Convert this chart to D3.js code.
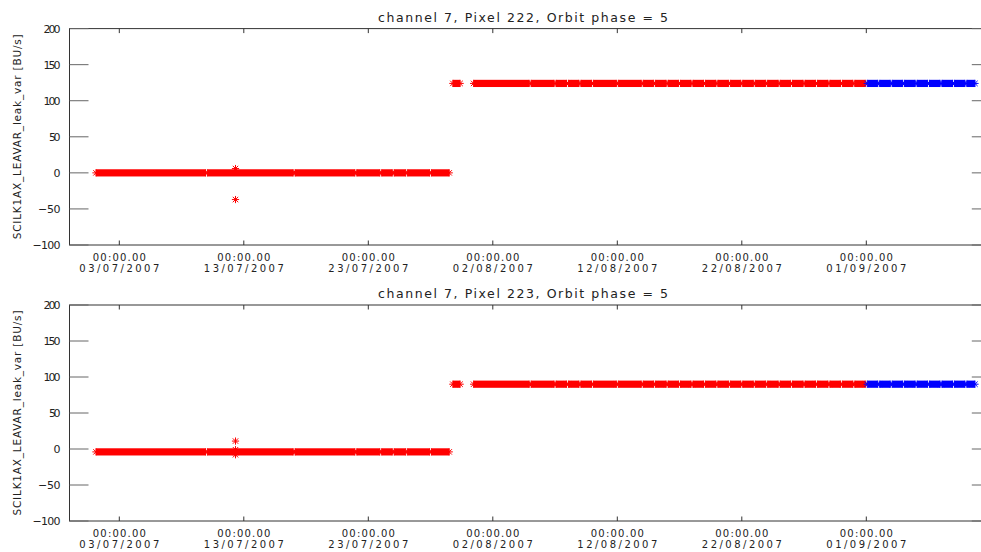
<!DOCTYPE html>
<html>
<head>
<meta charset="utf-8">
<script src="https://cdn.jsdelivr.net/npm/d3@7"></script>
<style>
  body { margin: 0; background: #fff; }
  svg { display: block; }
  text { font-family: "DejaVu Sans", sans-serif; fill: #222; }
</style>
</head>
<body>
<svg id="chart" width="981" height="552"></svg>
<script>
// ---- data ----
const channel = 7
const pixels = [222, 223]
const orbitPhase = 5
const lowLevel = [0, -4]        // BU/s before the jump
const highLevel = [124, 90]     // BU/s after the jump
const spikeTime = "2007-07-12T08:00"
const spikeValues = [[6, -37], [11, -1, -8]]

// observation spans and the daily gaps inside them
const lowSpan = ["2007-07-01T03:00", "2007-07-29T12:00"]
const lowGaps = ["2007-07-10", "2007-07-17T01:00", "2007-07-22", "2007-07-24",
  "2007-07-25", "2007-07-26T02:00", "2007-07-28"]
const jumpSpan = ["2007-07-29T19:00", "2007-07-30T09:00"]
const highSpan = ["2007-07-31T11:00", "2007-09-09T17:30"]
const highGaps = ["2007-08-05", "2007-08-07", "2007-08-08", "2007-08-09", "2007-08-10",
  "2007-08-12", "2007-08-14", "2007-08-15", "2007-08-16", "2007-08-17", "2007-08-18",
  "2007-08-19", "2007-08-20", "2007-08-21", "2007-08-22", "2007-08-23", "2007-08-24",
  "2007-08-25", "2007-08-26", "2007-08-27", "2007-08-28", "2007-08-29", "2007-08-30",
  "2007-08-31", "2007-09-01", "2007-09-02", "2007-09-03", "2007-09-04", "2007-09-05",
  "2007-09-06", "2007-09-07", "2007-09-08", "2007-09-09"]
const blueFrom = "2007-09-01"   // later product version plotted in blue

const xDomain = ["2007-06-29", "2007-09-11"]
const xTicks = ["2007-07-03", "2007-07-13", "2007-07-23", "2007-08-02",
  "2007-08-12", "2007-08-22", "2007-09-01"]
const yTicks = [-100, -50, 0, 50, 100, 150, 200]

// ---- helpers ----
const parse = s => new Date(s.length > 10 ? s + ":00Z" : s + "T00:00:00Z")
const halfGap = 1.8 * 3600 * 1000

function splitRuns(span, gaps) {
  const runs = []
  let start = parse(span[0])
  gaps.map(parse).forEach(g => {
    runs.push([start, new Date(+g - halfGap)])
    start = new Date(+g + halfGap)
  })
  runs.push([start, parse(span[1])])
  return runs
}

const svg = d3.select("#chart")
const left = 69.5, right = 990.8
const panels = [{ top: 28.6, bottom: 245 }, { top: 305, bottom: 521 }]

const x = d3.scaleTime().domain(xDomain.map(parse)).range([left, right])
const fmtDate = d3.utcFormat("%d/%m/%Y")
const r = 3.6
const asterisk = `M${-r},0H${r}M0,${-r}V${r}M${-r * .75},${-r * .75}L${r * .75},${r * .75}M${-r * .75},${r * .75}L${r * .75},${-r * .75}`

panels.forEach((p, i) => {
  const y = d3.scaleLinear().domain([-100, 200]).range([p.bottom, p.top])
  const g = svg.append("g")

  // title
  g.append("text")
    .attr("x", 523).attr("y", p.top - 7)
    .attr("text-anchor", "middle")
    .attr("font-size", 12.5)
    .attr("textLength", 290).attr("lengthAdjust", "spacing")
    .text(`channel ${channel}, Pixel ${pixels[i]}, Orbit phase = ${orbitPhase}`)

  // y axis title
  g.append("text")
    .attr("transform", `translate(21,${(p.top + p.bottom) / 2}) rotate(-90)`)
    .attr("text-anchor", "middle")
    .attr("font-size", 10.5)
    .attr("textLength", 205).attr("lengthAdjust", "spacing")
    .text("SCILK1AX_LEAVAR_leak_var [BU/s]")

  // frame
  g.append("rect")
    .attr("x", left).attr("y", p.top)
    .attr("width", right - left).attr("height", p.bottom - p.top)
    .attr("fill", "none").attr("stroke", "#333")

  // y ticks on both sides, labels left
  const yt = g.append("g").selectAll("g").data(yTicks).join("g")
    .attr("transform", d => `translate(0,${y(d)})`)
  yt.append("path")
    .attr("d", `M${left},0h19M${right},0h-19`)
    .attr("stroke", "#666")
  yt.append("text")
    .attr("x", left - 9).attr("dy", "0.36em")
    .attr("text-anchor", "end").attr("font-size", 11)
    .attr("textLength", d => String(Math.abs(d)).length * 5.7 + (d < 0 ? 11 : 0))
    .attr("lengthAdjust", "spacing")
    .text(d => (d < 0 ? "\u2212" : "") + Math.abs(d))

  // x ticks top and bottom, two-line labels
  const xt = g.append("g").selectAll("g").data(xTicks.map(parse)).join("g")
    .attr("transform", d => `translate(${x(d)},0)`)
  xt.append("path")
    .attr("d", `M0,${p.bottom}v-4.5M0,${p.top}v4.5`)
    .attr("stroke", "#333")
  xt.append("text")
    .attr("y", p.bottom + 15.5).attr("text-anchor", "middle").attr("font-size", 10)
    .attr("textLength", 53).attr("lengthAdjust", "spacing")
    .text("00:00.00")
  xt.append("text")
    .attr("y", p.bottom + 27.3).attr("text-anchor", "middle").attr("font-size", 10)
    .attr("textLength", 80).attr("lengthAdjust", "spacing")
    .text(d => fmtDate(d))

  // runs of observations: solid band of asterisks with marks at the run ends
  const runs = [
    ...splitRuns(lowSpan, lowGaps).map(d => ({ run: d, v: lowLevel[i] })),
    { run: jumpSpan.map(parse), v: highLevel[i] },
    ...splitRuns(highSpan, highGaps).map(d => ({ run: d, v: highLevel[i] }))
  ].map(d => ({ ...d, color: d.run[0] >= parse(blueFrom) ? "#0000ff" : "#ff0000" }))

  const data = g.append("g")
  data.selectAll("rect").data(runs).join("rect")
    .attr("x", d => x(d.run[0]))
    .attr("width", d => Math.max(0, x(d.run[1]) - x(d.run[0])))
    .attr("y", d => y(d.v) - r)
    .attr("height", 2 * r)
    .attr("fill", d => d.color)

  const ends = runs.flatMap(d => d.run.map(t => ({ t, v: d.v, color: d.color })))
  const spikes = spikeValues[i].map(v => ({ t: parse(spikeTime), v, color: "#ff0000" }))
  data.selectAll("path").data(ends.concat(spikes)).join("path")
    .attr("d", asterisk)
    .attr("transform", d => `translate(${x(d.t)},${y(d.v)})`)
    .attr("fill", "none")
    .attr("stroke", d => d.color)
    .attr("stroke-width", 1)
})
</script>
</body>
</html>
